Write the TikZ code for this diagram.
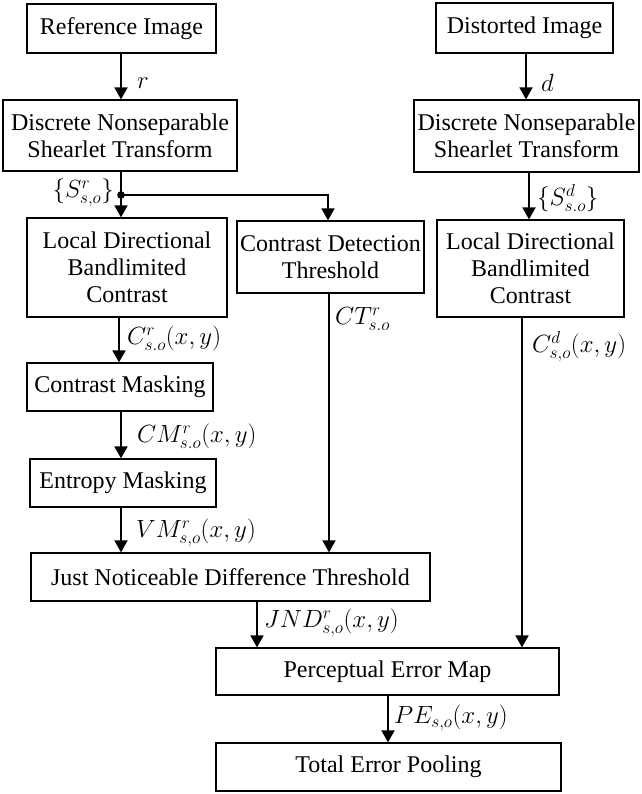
\documentclass[tikz,border=0pt]{standalone}
\usepackage{fontspec}
\setmainfont{Liberation Serif}
\newfontfamily\tnr{Liberation Serif}
\usetikzlibrary{arrows.meta}
\begin{document}
\begin{tikzpicture}[x=1pt,y=-1pt,
  box/.style={draw,line width=1.2pt,rectangle,inner sep=0pt,align=center,
    font=\tnr\fontsize{24}{27}\selectfont},
  arr/.style={line width=1.8pt,-{Triangle[length=12pt,width=13pt]}},
  lbl/.style={font=\fontsize{24}{28}\selectfont,inner sep=0pt}]
\useasboundingbox (0,0) rectangle (641,794);
% boxes
\node[box,minimum width=189pt,minimum height=49pt] (ref) at (121.5,28.5) {Reference Image};
\node[box,minimum width=234pt,minimum height=71pt] (dn1) at (120,135.5) {Discrete Nonseparable\\Shearlet Transform};
\node[box,minimum width=200pt,minimum height=99pt] (ld1) at (127,267.5) {Local Directional\\Bandlimited\\Contrast};
\node[box,minimum width=187pt,minimum height=72pt] (cdt) at (330.5,257) {Contrast Detection\\Threshold};
\node[box,minimum width=177pt,minimum height=50pt] (dist) at (524.5,28) {Distorted Image};
\node[box,minimum width=225pt,minimum height=72pt] (dn2) at (526.5,136) {Discrete Nonseparable\\Shearlet Transform};
\node[box,minimum width=187pt,minimum height=97pt] (ld2) at (530.5,268.5) {Local Directional\\Bandlimited\\Contrast};
\node[box,minimum width=186pt,minimum height=48pt] (cm) at (120,387) {Contrast Masking};
\node[box,minimum width=186pt,minimum height=48pt] (em) at (123,483) {Entropy Masking};
\node[box,minimum width=399pt,minimum height=48pt] (jnd) at (230.5,577) {Just Noticeable Difference Threshold};
\node[box,minimum width=343pt,minimum height=47pt] (pem) at (387.5,671.5) {Perceptual Error Map};
\node[box,minimum width=345pt,minimum height=48pt] (tep) at (388.5,767) {Total Error Pooling};
% connectors
\draw[arr] (ref.south -| 121,0) -- (dn1.north -| 121,0);
\coordinate (j) at (121,195);
\draw[arr] (dn1.south -| 121,0) -- (ld1.north -| 121,0);
\fill (j) circle (3.8pt);
\draw[arr] (j) -- (328,195) -- (cdt.north -| 328,0);
\draw[arr] (dist.south -| 526,0) -- (dn2.north -| 526,0);
\draw[arr] (dn2.south -| 529,0) -- (ld2.north -| 529,0);
\draw[arr] (ld1.south -| 119,0) -- (cm.north -| 119,0);
\draw[arr] (cm.south -| 121,0) -- (em.north -| 121,0);
\draw[arr] (em.south -| 121,0) -- (jnd.north -| 121,0);
\draw[arr] (cdt.south -| 329,0) -- (jnd.north -| 329,0);
\draw[arr] (ld2.south -| 522,0) -- (pem.north -| 522,0);
\draw[arr] (jnd.south -| 257,0) -- (pem.north -| 257,0);
\draw[arr] (pem.south -| 388,0) -- (tep.north -| 388,0);
% labels
\node[lbl,anchor=west] (lr) at (137,83) {$r$};
\node[lbl,anchor=west] (ld) at (541,83) {$d$};
\node[lbl,anchor=east] (lsr) at (114,193) {$\{S^{r}_{s,o}\}$};
\node[lbl,anchor=west] (lsd) at (537,198) {$\{S^{d}_{s.o}\}$};
\node[lbl,anchor=west] (lct) at (335,319) {$CT^{r}_{s.o}$};
\node[lbl,anchor=west] (lcd) at (532,347) {$C^{d}_{s,o}(x,y)$};
\node[lbl,anchor=west] (lcr) at (127,338) {$C^{r}_{s.o}(x,y)$};
\node[lbl,anchor=west] (lcm) at (137,436) {$CM^{r}_{s.o}(x,y)$};
\node[lbl,anchor=west] (lvm) at (136,533) {$VM^{r}_{s,o}(x,y)$};
\node[lbl,anchor=west] (ljnd) at (264,623) {$JND^{r}_{s,o}(x,y)$};
\node[lbl,anchor=west] (lpe) at (394,718) {$PE_{s,o}(x,y)$};
\end{tikzpicture}
\end{document}
